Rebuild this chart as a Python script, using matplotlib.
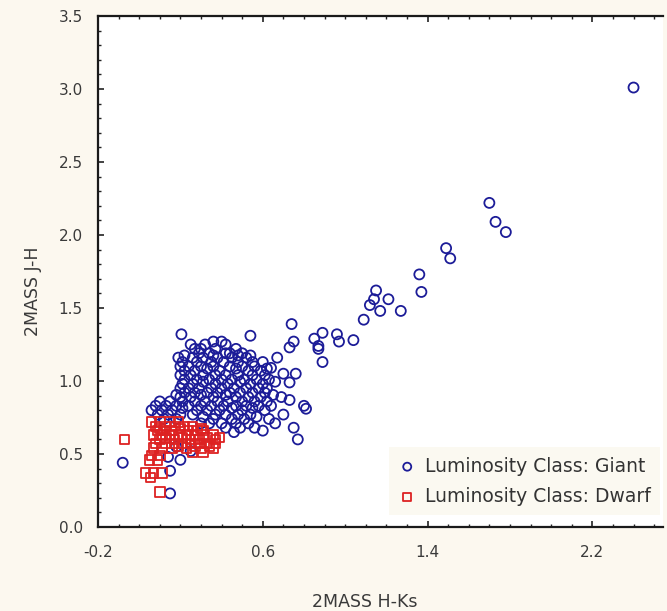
import numpy as np
import matplotlib
matplotlib.use("Agg")
import matplotlib.pyplot as plt
from matplotlib.ticker import FixedLocator, MultipleLocator

plt.rcParams["font.family"] = ["DejaVu Sans"]

# ============================
# DATA  (2MASS colours)
# ============================
# giants: sparse tail + outliers
giant_hk_tail = [2.40, 1.70, 1.73, 1.78, 1.49, 1.51, 1.36, 1.37, 1.15, 1.14,
                 1.12, 1.21, 1.17, 1.27, 1.09, 1.04, 0.96, 0.97, 0.89, 0.85,
                 0.87, 0.87, 0.89, 0.74, 0.75, 0.73, 0.54, 0.205, 0.76, 0.70,
                 0.73, 0.67, 0.64, 0.69, 0.73, 0.80, 0.81, 0.75, 0.77, 0.70,
                 0.66, 0.60, -0.08, 0.15, 0.15, 0.14, 0.20, 0.18, 0.25]
giant_jh_tail = [3.01, 2.22, 2.09, 2.02, 1.91, 1.84, 1.73, 1.61, 1.62, 1.56,
                 1.52, 1.56, 1.48, 1.48, 1.42, 1.28, 1.32, 1.27, 1.33, 1.29,
                 1.24, 1.22, 1.13, 1.39, 1.27, 1.23, 1.31, 1.32, 1.05, 1.05,
                 0.99, 1.16, 1.09, 0.89, 0.87, 0.83, 0.81, 0.68, 0.60, 0.77,
                 0.71, 0.66, 0.44, 0.385, 0.23, 0.48, 0.46, 0.55, 0.52]

# giants: main clump, listed row by row in J-H
giant_rows = {
    1.270: [0.36, 0.40],
    1.250: [0.25, 0.32, 0.42],
    1.220: [0.27, 0.30, 0.37, 0.47],
    1.190: [0.29, 0.34, 0.42, 0.44, 0.50],
    1.175: [0.22, 0.36, 0.48, 0.54],
    1.160: [0.19, 0.26, 0.31, 0.38, 0.45, 0.52],
    1.130: [0.21, 0.28, 0.35, 0.41, 0.48, 0.55, 0.60],
    1.100: [0.20, 0.24, 0.30, 0.36, 0.44, 0.50, 0.56],
    1.085: [0.33, 0.47, 0.62],
    1.070: [0.22, 0.27, 0.39, 0.53, 0.59],
    1.040: [0.20, 0.25, 0.31, 0.37, 0.42, 0.48, 0.55, 0.61],
    1.010: [0.22, 0.28, 0.34, 0.40, 0.45, 0.51, 0.57, 0.63],
    0.995: [0.31, 0.49, 0.66],
    0.980: [0.21, 0.26, 0.37, 0.43, 0.54, 0.60],
    0.950: [0.20, 0.24, 0.29, 0.35, 0.40, 0.46, 0.52, 0.58, 0.62],
    0.920: [0.22, 0.27, 0.33, 0.38, 0.44, 0.49, 0.55, 0.61],
    0.905: [0.18, 0.30, 0.42, 0.65],
    0.890: [0.20, 0.25, 0.36, 0.47, 0.53, 0.59],
    0.860: [0.10, 0.15, 0.21, 0.27, 0.32, 0.38, 0.43, 0.50, 0.56, 0.62],
    0.830: [0.08, 0.13, 0.18, 0.24, 0.30, 0.35, 0.41, 0.47, 0.52, 0.58, 0.64],
    0.815: [0.21, 0.45, 0.55],
    0.800: [0.06, 0.11, 0.16, 0.28, 0.33, 0.39, 0.50, 0.61],
    0.770: [0.09, 0.14, 0.20, 0.26, 0.37, 0.42, 0.48, 0.54],
    0.755: [0.31, 0.57],
    0.740: [0.12, 0.18, 0.36, 0.45, 0.51, 0.63],
    0.710: [0.30, 0.34, 0.40, 0.47, 0.53],
    0.680: [0.42, 0.49, 0.56],
    0.650: [0.46],
}

# dwarfs, row by row in J-H
dwarf_rows = {
    0.720: [0.06, 0.10, 0.15, 0.19],
    0.690: [0.08, 0.13, 0.17, 0.22, 0.26],
    0.675: [0.10, 0.20, 0.30],
    0.660: [0.09, 0.12, 0.16, 0.24, 0.28, 0.31],
    0.630: [0.07, 0.11, 0.15, 0.19, 0.23, 0.27, 0.31, 0.36],
    0.615: [0.13, 0.21, 0.33, 0.39],
    0.600: [-0.07, 0.10, 0.17, 0.25, 0.29, 0.37],
    0.570: [0.08, 0.13, 0.17, 0.21, 0.25, 0.29, 0.33, 0.37],
    0.555: [0.19, 0.27, 0.34],
    0.540: [0.07, 0.11, 0.16, 0.23, 0.30, 0.36],
    0.515: [0.26, 0.31],
    0.490: [0.06, 0.10],
    0.460: [0.05, 0.09],
    0.370: [0.03, 0.07, 0.11],
    0.340: [0.055],
    0.240: [0.10],
}


def flatten(rows):
    xs, ys = [], []
    for jh, hks in rows.items():
        xs.extend(hks)
        ys.extend([jh] * len(hks))
    return xs, ys


giant_x, giant_y = flatten(giant_rows)
giant_x = giant_hk_tail + giant_x
giant_y = giant_jh_tail + giant_y
dwarf_x, dwarf_y = flatten(dwarf_rows)

# ============================
# PLOT
# ============================
fig = plt.figure(figsize=(6.67, 6.11), dpi=100, facecolor="#fcf8ef")
ax = fig.add_axes([98 / 667, 1 - 527 / 611, (663 - 98) / 667, (527 - 16) / 611])
ax.set_facecolor("white")

ax.scatter(giant_x, giant_y, s=52, facecolors="none", edgecolors="#1c1c98",
           linewidths=1.3, marker="o", label="Luminosity Class: Giant", zorder=3)
ax.scatter(dwarf_x, dwarf_y, s=46, facecolors="none", edgecolors="#dd2222",
           linewidths=1.3, marker="s", label="Luminosity Class: Dwarf", zorder=4)

ax.set_xlim(-0.2, 2.543)
ax.set_ylim(0.0, 3.5)

ax.xaxis.set_major_locator(FixedLocator([-0.2, 0.6, 1.4, 2.2]))
ax.xaxis.set_minor_locator(MultipleLocator(0.1))
ax.yaxis.set_major_locator(MultipleLocator(0.5))
ax.yaxis.set_minor_locator(MultipleLocator(0.1))
ax.xaxis.set_major_formatter(lambda v, p: f"{v:.1f}")
ax.yaxis.set_major_formatter(lambda v, p: f"{v:.1f}")

ax.tick_params(which="both", direction="in", top=True, right=False,
               color="#222222", labelcolor="#3a3a3a", labelsize=11)
ax.tick_params(axis="x", which="major", length=4, width=1.2, pad=13)
ax.tick_params(axis="y", which="major", length=4, width=1.2, pad=11)
ax.tick_params(which="minor", length=2.5, width=1.0)

for side in ["left", "bottom", "top"]:
    ax.spines[side].set_linewidth(1.6)
    ax.spines[side].set_color("#1a1a1a")
ax.spines["right"].set_visible(False)

ax.set_xlabel("2MASS H-Ks", fontsize=12.5, color="#3a3a3a")
ax.set_ylabel("2MASS J-H", fontsize=12.5, color="#3a3a3a")
ax.xaxis.set_label_coords((365 - 98) / 565, -(593 - 527) / 511)
ax.yaxis.set_label_coords(-(98 - 42) / 565, (527 - 291) / 511)

leg = ax.legend(loc="lower right", bbox_to_anchor=(0.995, 0.023), frameon=True,
                fontsize=13.5, handletextpad=0.5, labelspacing=0.6,
                borderpad=0.5, handlelength=0.9, markerscale=0.8,
                fancybox=False, borderaxespad=0)
leg.get_frame().set_facecolor("#fbf8ee")
leg.get_frame().set_edgecolor("none")
for t in leg.get_texts():
    t.set_color("#333333")

fig.savefig("out.png", dpi=100, facecolor=fig.get_facecolor())
